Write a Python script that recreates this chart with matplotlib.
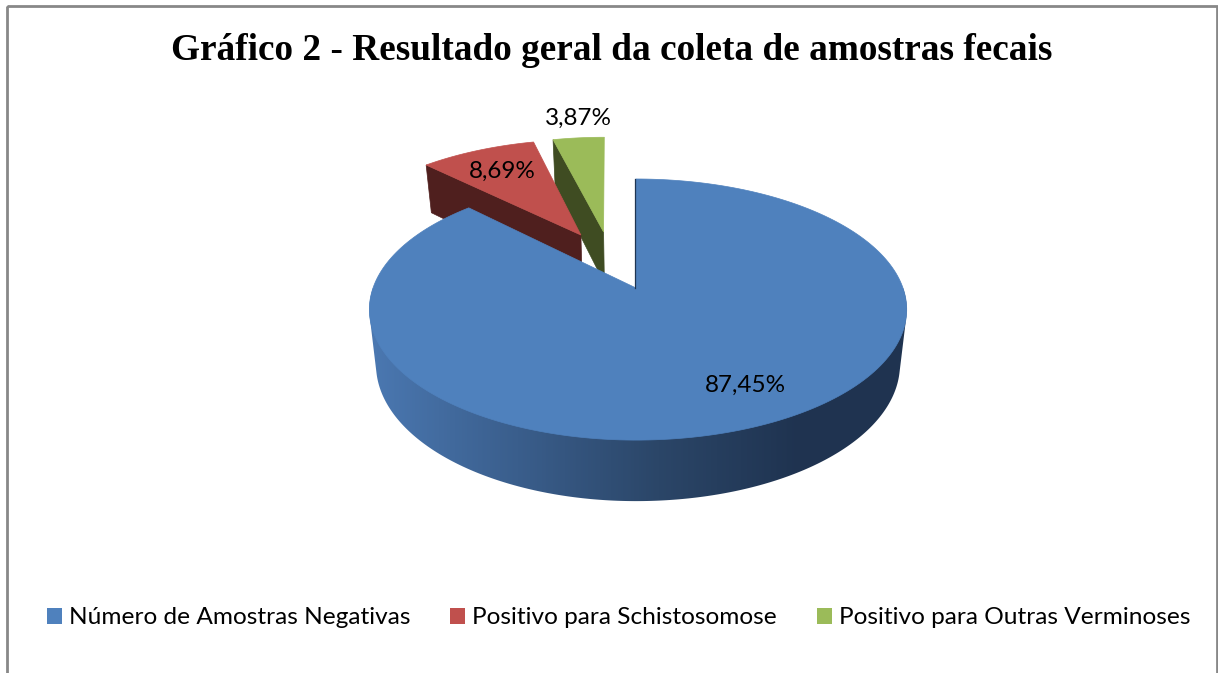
import numpy as np
import matplotlib
matplotlib.use("Agg")
import matplotlib.pyplot as plt
from matplotlib.colors import LinearSegmentedColormap
from matplotlib.patches import Patch, Polygon, Rectangle

title = "Gráfico 2 - Resultado geral da coleta de amostras fecais"
categories = ["Número de Amostras Negativas", "Positivo para Schistosomose", "Positivo para Outras Verminoses"]
values = [87.45, 8.69, 3.87]

TOP = ["#4F81BD", "#C0504D", "#9BBB59"]
CUT = ["#1F3552", "#4F1F1E", "#3F4C22"]
RIM_SHIFT = [(0, 0), (-0.24, 0.448), (-0.15, 0.476)]
APEX_SHIFT = [(0, 0), (-0.225, 0.448), (-0.133, 0.476)]
LABEL_POS = [(745, 385), (502, 171), (578, 118)]

CX, CY, R, S, K = 636, 288, 265, 127, 0.165
DEPTH, DK, SHRINK = 54, 0.115, 0.975

fig = plt.figure(figsize=(12.18, 6.73), dpi=100)
ax = fig.add_axes([0, 0, 1, 1])


def top(u, v):
    u, v = np.asarray(u, float), np.asarray(v, float)
    w = 1 + K * v
    return np.column_stack([CX + (R * u + 2 * np.abs(u)) / w, CY - S * v / w])


def bottom(u, v):
    p = top(u, v)
    v = np.asarray(v, float)
    p[:, 0] = CX + (p[:, 0] - CX) * SHRINK
    p[:, 1] = p[:, 1] + DEPTH / (1 + DK * v)
    return p


def unit(frac):
    a = 2 * np.pi * np.asarray(frac, float)
    return np.sin(a), np.cos(a)


def convex_hull(points):
    pts = sorted(map(tuple, points))

    def half(seq):
        out = []
        for p in seq:
            while len(out) > 1 and ((out[-1][0] - out[-2][0]) * (p[1] - out[-2][1])
                                    - (out[-1][1] - out[-2][1]) * (p[0] - out[-2][0])) <= 0:
                out.pop()
            out.append(p)
        return out[:-1]

    return np.array(half(pts) + half(pts[::-1]))


fr = np.array(values) / np.sum(values)
edges = np.concatenate([[0], np.cumsum(fr)])


def rim(i, n=240):
    return np.linspace(edges[i], edges[i + 1], n)


def cut_face(i, frac):
    dx, dy = RIM_SHIFT[i]
    ax_, ay_ = APEX_SHIFT[i]
    us, vs = unit([frac])
    ru, rv = us + dx, vs + dy
    au, av = np.array([ax_]), np.array([ay_])
    pts = np.vstack([top(ru, rv), top(au, av), bottom(au, av), bottom(ru, rv)])
    ax.add_patch(Polygon(pts, closed=True, fc=CUT[i], ec=CUT[i], lw=0.5, zorder=2 + (i == 1) * 1))


def top_face(i, zorder):
    dx, dy = RIM_SHIFT[i]
    us, vs = unit(rim(i))
    pts = np.vstack([top(us + dx, vs + dy), top([APEX_SHIFT[i][0]], [APEX_SHIFT[i][1]])])
    ax.add_patch(Polygon(pts, closed=True, fc=TOP[i], ec=TOP[i], lw=0.5, zorder=zorder))


# exploded slices (behind the main slice)
cut_face(2, edges[2])
top_face(2, 2.5)
cut_face(1, edges[1])
top_face(1, 3.5)

# side of the main slice: gradient image clipped to the hull of the front half
cmap = LinearSegmentedColormap.from_list("side", ["#4A77B0", "#3A5E8C", "#2B4668", "#1F3350"])
f = np.linspace(0.25, 0.75, 400)
us, vs = unit(f)
outline = Polygon(convex_hull(np.vstack([top(us, vs), bottom(us, vs)])), closed=True,
                  transform=ax.transData, fc="none", ec="none")
ax.add_patch(outline)
xs = np.arange(360, 920)
grad = np.clip((xs - 375) / (800 - 375), 0, 1)[None, :]
im = ax.imshow(grad, cmap=cmap, vmin=0, vmax=1, extent=(360, 920, 520, 170), aspect="auto", zorder=4)
im.set_clip_path(outline)

top_face(0, 5)
us0, vs0 = unit([edges[0]])
line = np.vstack([top(us0, vs0), top([0], [0])])
ax.plot(line[:, 0] - 0.6, line[:, 1], color=CUT[0], lw=0.9, zorder=5.5)

for v, (x, y) in zip(values, LABEL_POS):
    ax.text(x, y, f"{v:.2f}%".replace(".", ","), ha="center", va="center",
            family="Lato", fontsize=17.5, color="black", zorder=6)

ax.text(612, 51, title, ha="center", va="center", family="Liberation Serif",
        fontweight="bold", fontsize=26.8, color="black")

handles = [Patch(facecolor=c, edgecolor="none", label=l) for c, l in zip(TOP, categories)]
ax.legend(handles=handles, ncol=3, loc="center", bbox_to_anchor=(618.5, 618),
          bbox_transform=ax.transData, frameon=False, borderpad=0, borderaxespad=0,
          prop={"family": "Lato", "size": 17.6}, handlelength=0.62, handleheight=0.62,
          handletextpad=0.29, columnspacing=1.62, labelcolor="black")

ax.add_patch(Rectangle((6.5, 6), 1210, 720, fill=False, ec="#888888", lw=2, clip_on=True, zorder=1))

ax.set_xlim(0, 1218)
ax.set_ylim(673, 0)
ax.axis("off")

fig.savefig("out.png", dpi=100)
